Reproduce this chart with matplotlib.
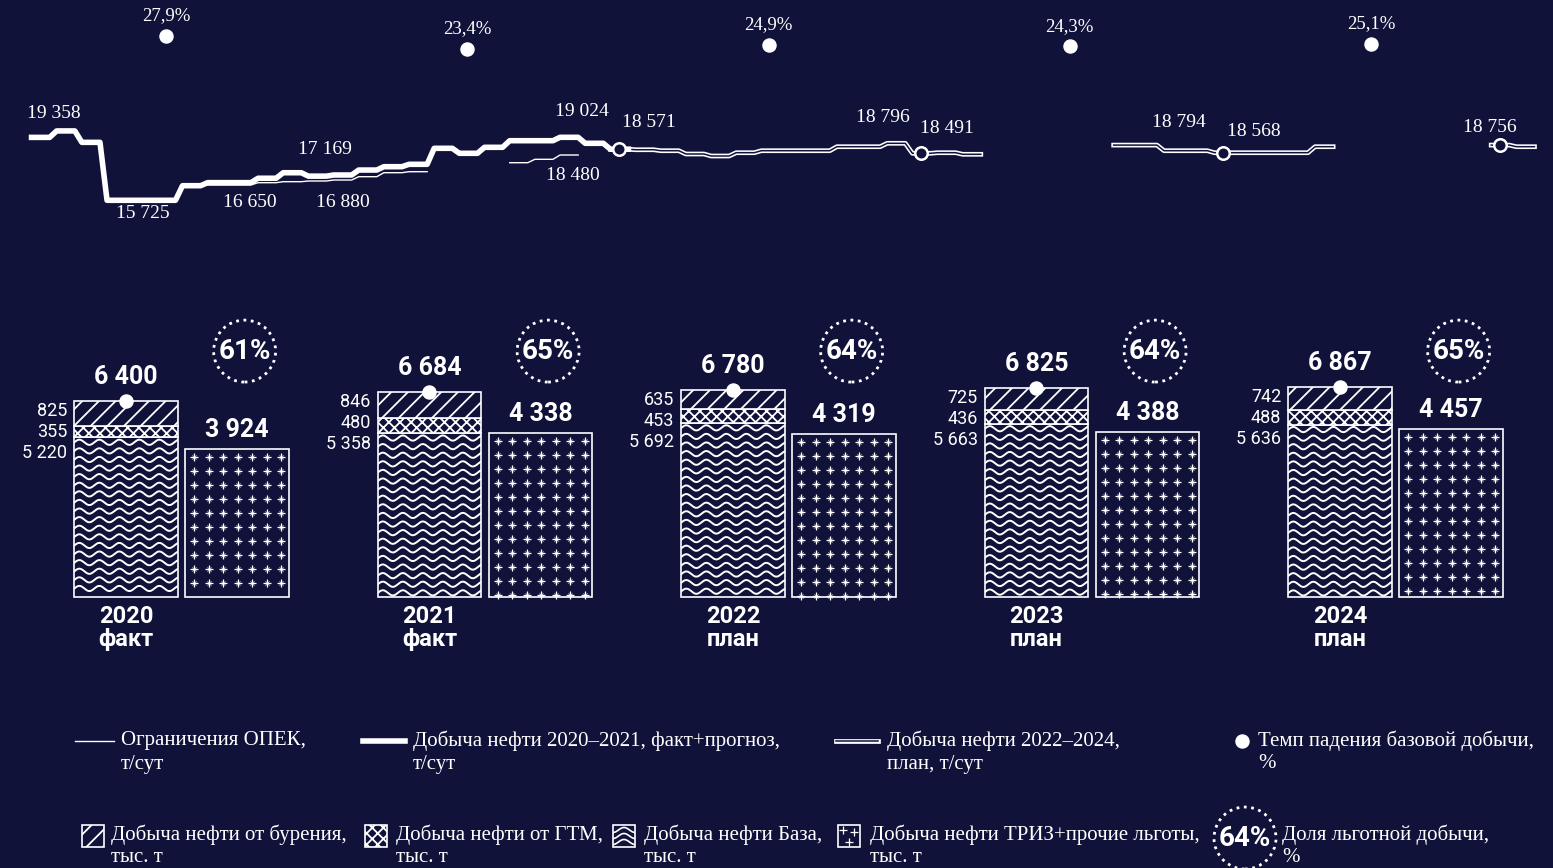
import numpy as np
import matplotlib.pyplot as plt
from matplotlib.patches import Rectangle

W, H = 1553, 868
BG = '#10123a'
FG = 'white'
SERIF = ['Liberation Serif', 'DejaVu Serif']
NARROW = ['Liberation Sans Narrow', 'Roboto', 'DejaVu Sans']
SANS = ['Roboto', 'DejaVu Sans']
nan = np.nan

# monthly oil output, t/сут (month 0 = Jan 2020)
fact_2020_2021 = [19020, 19358, 18760, 15725, 15725, 15725, 16490, 16650, 16650, 16880, 17169, 16990,
                  17050, 17310, 17485, 17610, 18448, 18186, 18500, 18846, 18846, 19024, 18710, 18400]
opec_limit = [nan, nan, nan, nan, nan, nan, nan, 16527, 16527, 16647, 16700, 16736,
              16788, 16961, 17171, 17223, nan, nan, nan, 17694, 17872, 18097, nan, nan]
plan_first_month = 23
plan_2022_2024 = [18400,
                  18373, 18322, 18150, 18045, 18218, 18322, 18322, 18322, 18532, 18532, 18710, 18186,
                  18218, 18134, nan, nan, nan, nan, nan, 18616, 18616, 18322, 18322, 18218,
                  18218, 18218, 18218, 18532, nan, nan, nan, nan, nan, nan, 18616, 18532]
ring_months = [23, 35, 47, 58]

line_labels = ['19 358', '15 725', '16 650', '16 880', '17 169', '19 024', '18 571',
               '18 480', '18 796', '18 491', '18 794', '18 568', '18 756']
line_label_x = [1.03, 4.57, 8.82, 12.51, 11.8, 22.0, 24.67, 21.65, 33.97, 36.5, 45.73, 48.7, 58.1]
line_label_y = [20296, 15060, 15584, 15584, 18411, 20401, 19825, 16998, 20035, 19459, 19825, 19354, 19563]

years = ['2020', '2021', '2022', '2023', '2024']
year_kind = ['факт', 'факт', 'план', 'план', 'план']
decline_rate = [27.9, 23.4, 24.9, 24.3, 25.1]
drilling = [825, 846, 635, 725, 742]
gtm = [355, 480, 453, 436, 488]
base = [5220, 5358, 5692, 5663, 5636]
totals = [6400, 6684, 6780, 6825, 6867]
triz = [3924, 4338, 4319, 4388, 4457]
benefit_share = [61, 65, 64, 64, 65]


def fmt(v):
    return f'{v:,}'.replace(',', ' ')


def px_axes(x0, y0, x1, y1):
    a = fig.add_axes([x0 / W, 1 - y1 / H, (x1 - x0) / W, (y1 - y0) / H])
    a.set_facecolor('none')
    a.axis('off')
    return a


def data_per_px(a):
    bb = a.get_position()
    x0, x1 = a.get_xlim()
    y0, y1 = a.get_ylim()
    return (x1 - x0) / (bb.width * W), (y1 - y0) / (bb.height * H)


def steps(first, vals, pad=0.14):
    xs, ys = [], []
    for k, v in enumerate(vals):
        xs += [first + k + pad, first + k + 1 - pad]
        ys += [v, v]
    return xs, ys


def waves(a, patch, rows_px=8.6, amp_px=2.6, period_px=20, lw=1.4):
    dx, dy = data_per_px(a)
    left, bottom = patch.get_x(), patch.get_y()
    w, h = patch.get_width(), patch.get_height()
    xx = np.linspace(left, left + w, 200)
    for r in np.arange(bottom + h - 5 * dy, bottom, -rows_px * dy):
        yy = r + amp_px * dy * np.sin(2 * np.pi * (xx - left) / (period_px * dx))
        ln, = a.plot(xx, yy, color=FG, lw=lw)
        ln.set_clip_path(patch)


def sparkles(a, patch, step_x=14.5, step_y=14):
    dx, dy = data_per_px(a)
    left, bottom = patch.get_x(), patch.get_y()
    w, h = patch.get_width(), patch.get_height()
    cols = np.arange(left + 9 * dx, left + w - 4 * dx, step_x * dx)
    rws = np.arange(bottom + h - 8 * dy, bottom, -step_y * dy)
    gx, gy = np.meshgrid(cols, rws)
    a.scatter(gx, gy, marker='+', s=36, color=FG, lw=0.9, clip_path=patch, zorder=3)
    a.scatter(gx, gy, marker='x', s=9, color=FG, lw=0.7, alpha=0.7, clip_path=patch, zorder=3)


plt.rcParams['hatch.linewidth'] = 1.3
fig = plt.figure(figsize=(W / 100, H / 100), dpi=100, facecolor=BG)

# ---- top: monthly production line ----
axl = px_axes(28, 90, 1538, 230)
axl.set_xlim(0, 60)
axl.set_ylim(14170, 21501)
axl.plot(*steps(0, opec_limit), color=FG, lw=1.0, zorder=2)
px, py = steps(plan_first_month, plan_2022_2024)
axl.plot(px, py, color=FG, lw=3.4, zorder=2)
axl.plot(px, py, color=BG, lw=1.1, zorder=2.1)
axl.plot(*steps(0, fact_2020_2021), color=FG, lw=4.0, zorder=3)
ring_vals = [plan_2022_2024[m - plan_first_month] for m in ring_months]
axl.plot(np.array(ring_months) + 0.5, ring_vals, 'o', ms=9, mfc=BG, mec=FG, mew=1.8, zorder=5)
for s, x, y in zip(line_labels, line_label_x, line_label_y):
    axl.text(x, y, s, ha='center', va='center', fontsize=14, family=SERIF, color=FG)

# ---- base decline rate dots ----
axp = px_axes(0, 0, W, 80)
axp.set_xlim(-0.551, 4.604)
axp.set_ylim(12.67, 40.35)
axp.plot(range(5), decline_rate, 'o', ms=9.4, color=FG)
for i, v in enumerate(decline_rate):
    axp.annotate(f'{v:.1f}'.replace('.', ',') + '%', (i, v), xytext=(0, 20),
                 textcoords='offset pixels', ha='center', va='center',
                 fontsize=13.5, family=SERIF, color=FG)

# ---- bars ----
ax = px_axes(0, 290, W, 600)
axt = ax.twinx()
axt.axis('off')
x = np.arange(len(years))
xs, xt, bw = x - 0.183, x + 0.183, 0.34
kw = dict(width=bw, color=BG, edgecolor=FG, linewidth=1.2)
b_base = ax.bar(xs, base, **kw)
b_gtm = ax.bar(xs, gtm, bottom=base, hatch='xxx', **kw)
b_drill = ax.bar(xs, drilling, bottom=np.add(base, gtm), hatch='//', **kw)
b_triz = axt.bar(xt, triz, **kw)
ax.set_xlim(-0.598, 4.519)
ax.set_ylim(-98, 10033)
axt.set_ylim(-80, 8145)

for p in b_base:
    waves(ax, p)
for p in b_triz:
    sparkles(axt, p)

ax.plot(xs, totals, 'o', ms=9.4, color=FG, zorder=4)
for i in range(len(years)):
    ax.annotate(fmt(totals[i]), (xs[i], totals[i]), xytext=(0, 24), textcoords='offset pixels',
                ha='center', va='center', fontsize=18, fontweight='bold', family=NARROW, color=FG)
    axt.annotate(fmt(triz[i]), (xt[i], triz[i]), xytext=(0, 19), textcoords='offset pixels',
                 ha='center', va='center', fontsize=18, fontweight='bold', family=NARROW, color=FG)
    for k, v in enumerate([drilling[i], gtm[i], base[i]]):
        ax.annotate(fmt(v), (xs[i] - bw / 2, totals[i]), xytext=(-7, -10 - 21 * k),
                    textcoords='offset pixels', ha='right', va='center',
                    fontsize=13, family=SANS, color=FG)
    ax.annotate(f'{years[i]}\n{year_kind[i]}', (xs[i], 0), xytext=(0, -31),
                textcoords='offset pixels', ha='center', va='center', linespacing=1.0,
                fontsize=17, fontweight='bold', family=NARROW, color=FG)

trans = ax.get_xaxis_transform()
ax.scatter(xt + 0.025, [0.803] * len(xt), s=1990, facecolors='none', edgecolors=FG,
           linewidths=2, linestyles=':', transform=trans)
for i, v in enumerate(benefit_share):
    ax.text(xt[i] + 0.025, 0.803, f'{v}%', transform=trans, ha='center', va='center',
            fontsize=20, fontweight='bold', family=NARROW, color=FG)

# ---- legend ----
lg = fig.add_axes([0, 0, 1, 1])
lg.set_facecolor('none')
lg.axis('off')
lg.set_xlim(0, W)
lg.set_ylim(H, 0)

lg.plot([75, 114], [741, 741], color=FG, lw=1.0)
lg.plot([363, 405], [741, 741], color=FG, lw=4.0)
lg.plot([836, 878], [741, 741], color=FG, lw=3.4)
lg.plot([836, 878], [741, 741], color=BG, lw=1.1)
lg.plot([1242], [741], 'o', ms=9.4, color=FG)

r1 = lg.add_patch(Rectangle((82, 825), 22, 22, facecolor=BG, edgecolor=FG, lw=1.2, hatch='//'))
r2 = lg.add_patch(Rectangle((365, 825), 22, 22, facecolor=BG, edgecolor=FG, lw=1.2, hatch='xxx'))
r3 = lg.add_patch(Rectangle((613, 825), 22, 22, facecolor=BG, edgecolor=FG, lw=1.2))
r4 = lg.add_patch(Rectangle((838, 825), 22, 22, facecolor=BG, edgecolor=FG, lw=1.2))
xx = np.linspace(613, 635, 60)
for r in [830, 836, 842]:
    ln, = lg.plot(xx, r + 2.5 * np.sin(2 * np.pi * (xx - 613) / 22 + np.pi / 2), color=FG, lw=1.2)
    ln.set_clip_path(r3)
lg.scatter([843, 854, 849], [830, 832, 842], marker='+', s=30, color=FG, lw=0.9, clip_path=r4)
lg.scatter([1245], [838], s=1990, facecolors='none', edgecolors=FG, linewidths=2, linestyles=':')
lg.text(1245, 838, '64%', ha='center', va='center', fontsize=20, fontweight='bold',
        family=NARROW, color=FG)

legend_rows = [
    (121, 741, 'Ограничения ОПЕК,', 'т/сут'),
    (413, 741, 'Добыча нефти 2020–2021, факт+прогноз,', 'т/сут'),
    (887, 741, 'Добыча нефти 2022–2024,', 'план, т/сут'),
    (1258, 741, 'Темп падения базовой добычи,', '%'),
    (111, 835, 'Добыча нефти от бурения,', 'тыс. т'),
    (396, 835, 'Добыча нефти от ГТМ,', 'тыс. т'),
    (644, 835, 'Добыча нефти База,', 'тыс. т'),
    (870, 835, 'Добыча нефти ТРИЗ+прочие льготы,', 'тыс. т'),
    (1282, 835, 'Доля льготной добычи,', '%'),
]
for lx, ly, t1, t2 in legend_rows:
    lg.text(lx, ly, t1, ha='left', va='center', fontsize=15, family=SERIF, color=FG)
    lg.text(lx, ly + 23, t2, ha='left', va='center', fontsize=15, family=SERIF, color=FG)

fig.savefig('out.png', dpi=100, facecolor=BG)
